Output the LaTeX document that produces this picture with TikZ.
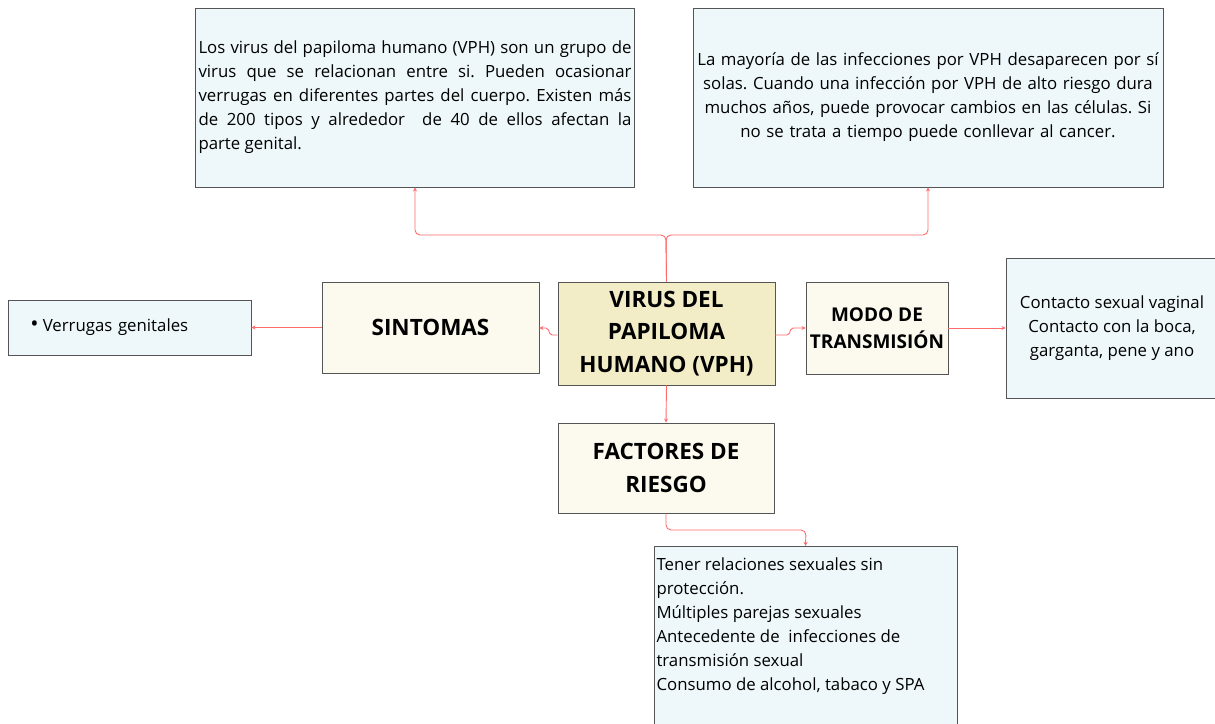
\documentclass[tikz,border=0pt]{standalone}
\usepackage{fontspec}
\setmainfont{Open Sans}
\usepackage{tikz}
\usetikzlibrary{arrows.meta}

\definecolor{infofill}{HTML}{EEF8FB}
\definecolor{mainfill}{HTML}{F2EDC6}
\definecolor{topicfill}{HTML}{FCFAEE}
\definecolor{boxline}{HTML}{555555}
\definecolor{linkred}{HTML}{FF6A6A}

\frenchspacing
\tikzset{
  infobox/.style={draw=boxline, fill=infofill, line width=0.9pt, font=\fontsize{16.8}{24}\selectfont},
  topicbox/.style={draw=boxline, fill=topicfill, line width=0.9pt, align=center, font=\bfseries\fontsize{22.5}{32.5}\selectfont},
  link/.style={draw=linkred, line width=0.9pt, rounded corners=5pt, -{Stealth[length=4pt,width=4pt]}}
}

\begin{document}
\begin{tikzpicture}[x=1pt, y=-1pt]
            \useasboundingbox (0,0) rectangle (1215,723);
            % Nodes
            \node[infobox, minimum width=436, minimum height=179, text width=433, align=justify] (def) at (415, 97.5) {Los virus del papiloma humano (VPH) son un grupo de\linebreak virus que se relacionan entre si. Pueden ocasionar\linebreak verrugas en diferentes partes del cuerpo. Existen más\linebreak de 200 tipos y alrededor\ \ de 40 de ellos afectan la\linebreak parte genital.};
            \node[infobox, minimum width=470, minimum height=179, text width=462, align=center] (info) at (928, 97.5) {La mayoría de las infecciones por VPH desaparecen por sí\\solas. Cuando una infección por VPH de alto riesgo dura\\muchos años, puede provocar cambios en las células. Si\\no se trata a tiempo puede conllevar al cancer.};
            \node[topicbox, fill=mainfill, minimum width=217, minimum height=103] (vph) at (666.5, 333.5) {VIRUS DEL\\PAPILOMA\\HUMANO (VPH)};
            \node[topicbox, minimum width=217, minimum height=91] (sint) at (430.5, 327.5) {SINTOMAS};
            \node[infobox, minimum width=243, minimum height=55, text width=206, align=left] (verr) at (129.5, 327.5) {\hspace{4pt}{\fontsize{22}{24}\selectfont\textbullet}\hspace{4pt}Verrugas genitales};
            \node[topicbox, minimum width=142, minimum height=92, inner xsep=1pt, font=\bfseries\fontsize{19}{27}\selectfont] (modo) at (877, 328) {MODO DE\\TRANSMISIÓN};
            \node[infobox, minimum width=212, minimum height=140, align=center] (cont) at (1112, 328) {Contacto sexual vaginal\\Contacto con la boca,\\garganta, pene y ano};
            \node[topicbox, minimum width=216, minimum height=90] (fact) at (666, 468) {FACTORES DE\\RIESGO};
            \node[infobox, anchor=north, minimum width=303, inner xsep=2pt, inner ysep=0pt] (risk) at (805.5, 546) {\parbox[t][178pt][t]{298pt}{\raggedright\vspace{11pt}Tener relaciones sexuales sin\\protección.\\Múltiples parejas sexuales\\Antecedente de\ \ infecciones de\\transmisión sexual\\Consumo de alcohol, tabaco y SPA}};

            % Lines
            \draw[link] (vph.north) -- (666, 235) -| (def.south);
            \draw[link] (vph.north) -- (666, 235) -| (info.south);
            \draw[link, rounded corners=2pt] (vph.west |- 0, 335) -- (550, 335) -- (548, 328) -- (sint.east |- 0, 328);
            \draw[link] (sint.west) -- (verr.east);
            \draw[link, rounded corners=2pt] (vph.east |- 0, 335) -- (789, 335) -- (791, 328) -- (modo.west |- 0, 328);
            \draw[link] (modo.east) -- (cont.west |- modo.east);
            \draw[link] (vph.south) -- (fact.north);
            \draw[link] (fact.south) |- (806, 530) -- (risk.north);
        \end{tikzpicture}
\end{document}
